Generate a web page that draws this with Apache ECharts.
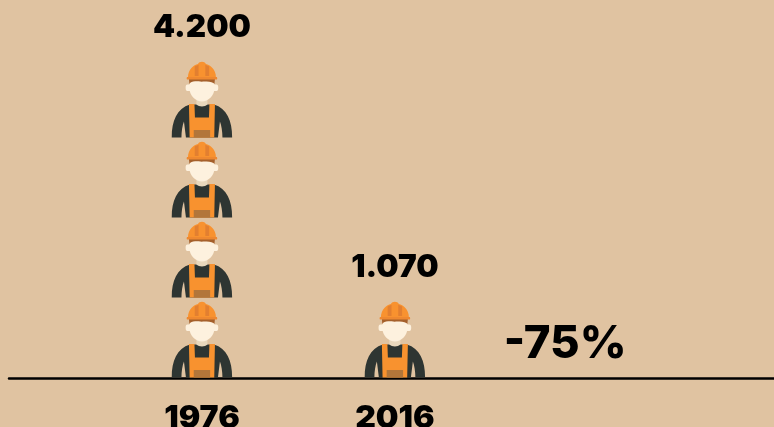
<!DOCTYPE html>
<html><head><meta charset="utf-8">
<style>html,body{margin:0;padding:0;background:#e0c3a1}#c{width:774px;height:427px}</style>
<script src="https://cdn.jsdelivr.net/npm/echarts@6/dist/echarts.min.js"></script>
</head><body><div id="c"></div>
<script>
const years = [1976, 2016];
const workers = [4200, 1070];
const valueLabels = ['4.200', '1.070'];
const unitPerIcon = 1050;
const changeLabel = '-75%';
const changeYear = 2051.3;
const changeLevel = 445;

const FONT = 'Inter, Lato, sans-serif';
const ORANGE = '#f8922f', DARK = '#2e3532', SKIN = '#fdf1de', NECK = '#e9d8bd',
      STRIPE = '#e27f30', BRIM = '#ee8830', BROWN = '#b2763a', HAIR = '#a5602b';

function iconParts() {
  const p = (d, fill) => ({type: 'path', shape: {pathData: d}, style: {fill}});
  return [
    p('M-30.2 0C-30.2 -17 -25 -29 -12 -33L12 -33C25 -29 30.2 -17 30.2 0L20.5 0C20.5 -6 19.5 -12 18 -16L16 0L-16 0L-18 -16C-19.5 -12 -20.5 -6 -20.5 0Z', DARK),
    p('M-13 -33.5L-7.5 -33.5L-7 -20L7 -20L7.5 -33.5L13 -33.5L12.3 0L-12.3 0Z', ORANGE),
    p('M-8.2 -7.5L8.2 -7.5L8.2 0L-8.2 0Z', BROWN),
    p('M-5.5 -40L5.5 -40L5.5 -33C3 -30.5 -3 -30.5 -5.5 -33Z', NECK),
    p('M-14.5 -53A1.8 3.2 0 0 0 -14.5 -46.5L-11 -46.5L-11 -53ZM14.5 -53A1.8 3.2 0 0 1 14.5 -46.5L11 -46.5L11 -53Z', SKIN),
    p('M-12.5 -58L12.5 -58L12.5 -49C12.5 -42 6 -36 0 -36C-6 -36 -12.5 -42 -12.5 -49Z', SKIN),
    p('M-13 -58.5L13 -58.5L12.6 -53.5C11.5 -55.5 7 -56.3 3 -56C0 -55.8 -2 -55.8 -6 -56.2C-9 -56.4 -11.5 -55.5 -12.6 -53.5Z', HAIR),
    p('M-14 -60C-14 -68.5 -8 -72.5 -4 -73.5C-2.5 -76.5 2.5 -76.5 4 -73.5C8 -72.5 14 -68.5 14 -60Z', ORANGE),
    p('M-15 -60.5L15 -60.5Q15.6 -58.8 15 -58L-15 -58Q-15.6 -58.8 -15 -60.5Z', BRIM),
    p('M-7.2 -71L-3.4 -72.8L-3.4 -61.5L-7.2 -61.5ZM3.4 -72.8L7.2 -71L7.2 -61.5L3.4 -61.5Z', STRIPE)
  ];
}

function renderWorkers(params, api) {
  const i = api.value(2);
  const base = api.coord([api.value(0), 0]);
  const iconH = api.size([0, unitPerIcon])[1];
  const s = iconH / 80;
  const n = Math.max(1, Math.round(api.value(1) / unitPerIcon));
  const children = [];
  for (let k = 0; k < n; k++) {
    children.push({
      type: 'group', x: base[0], y: base[1] - 0.5 - k * iconH, scaleX: s, scaleY: s,
      children: iconParts()
    });
  }
  children.push({
    type: 'text', x: base[0], y: base[1] - (n * iconH) - 30,
    style: {text: valueLabels[i], fill: '#000', font: '900 31.5px ' + FONT,
            align: 'center', verticalAlign: 'middle'}
  });
  return {type: 'group', children};
}

const chart = echarts.init(document.getElementById('c'), null, {renderer: 'canvas'});
chart.setOption({
  animation: false,
  backgroundColor: '#e0c3a1',
  grid: {left: 9, right: 0, top: 58, height: 320, outerBoundsMode: 'none'},
  xAxis: {
    type: 'value', min: 1936, max: 2094.6,
    splitLine: {show: false},
    axisLine: {show: true, onZero: false, lineStyle: {color: '#000', width: 2.5}},
    axisTick: {show: false},
    axisLabel: {customValues: years, formatter: v => String(v), color: '#000',
                fontFamily: FONT, fontWeight: 900, fontSize: 32, margin: 24}
  },
  yAxis: {type: 'value', min: 0, max: 4200, interval: 1050, show: false},
  series: [{
    type: 'custom', clip: false, renderItem: renderWorkers,
    encode: {x: 0, y: 1},
    data: years.map((y, i) => [y, workers[i], i])
  }, {
    type: 'scatter', symbolSize: 0, silent: true,
    itemStyle: {opacity: 1},
    data: [[changeYear, changeLevel]],
    label: {show: true, position: 'inside', formatter: changeLabel, color: '#000', opacity: 1,
            fontFamily: FONT, fontWeight: 800, fontSize: 45.5}
  }]
});
</script></body></html>
